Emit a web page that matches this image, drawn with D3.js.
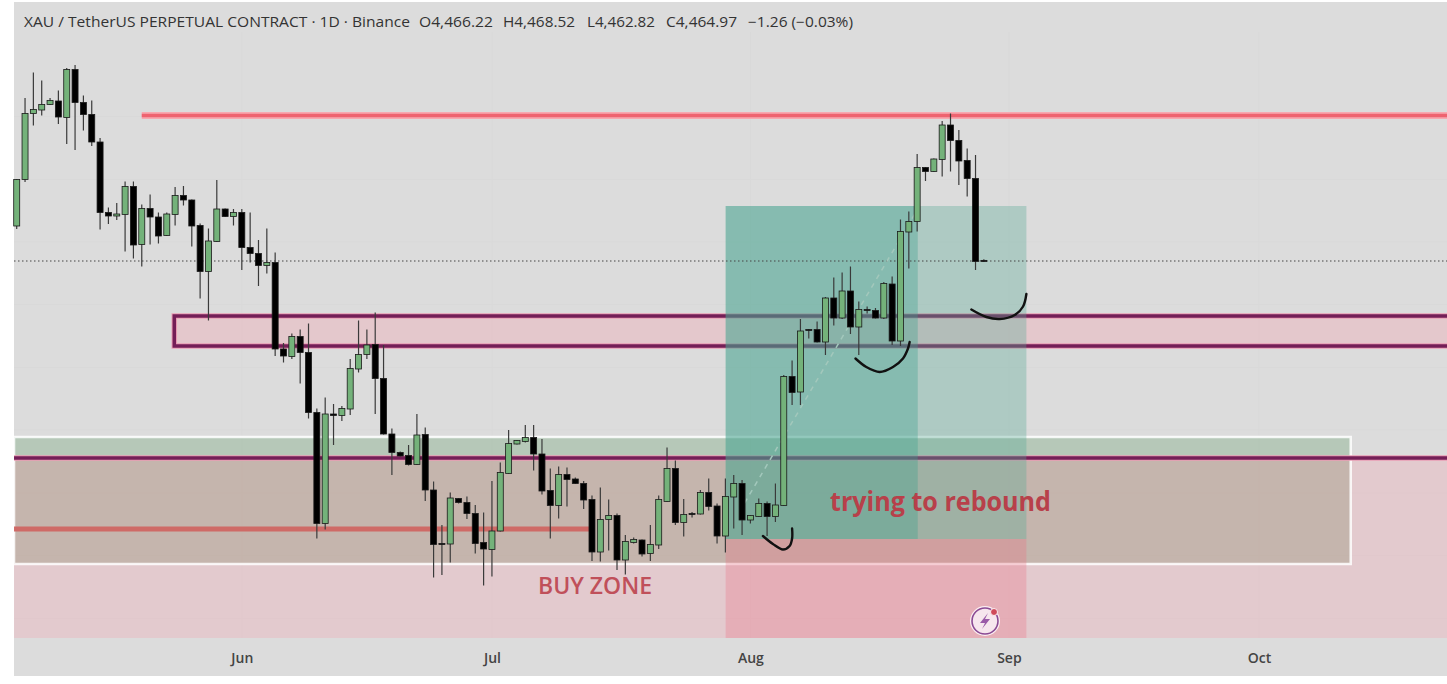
<!DOCTYPE html>
<html>
<head>
<meta charset="utf-8">
<script src="https://cdn.jsdelivr.net/npm/d3@7"></script>
<style>
    html, body { margin: 0; padding: 0; background: #fff; }
    svg { display: block; }
    text { font-family: "Open Sans", Roboto, sans-serif; }
</style>
</head>
<body>
<div id="chart"></div>
<script>
// daily XAU perp candles, first bar is May 5
const firstDay = "2026-05-05";
const opens = [4535,4628,4760,4767,4778,4785,4752,4848,4782,4758,4703,4562,4555,4558,4614,4498,4570,4553,4516,4558,4596,4587,4536,4444,4504,4569,4554,4562,4492,4480,4456,4462,4289,4274,4314,4282,4162,3940,4159,4156,4169,4249,4278,4298,4230,4119,4082,4076,4058,4118,4007,3900,3899,3990,3982,3960,3902,3888,3925,4040,4099,4104,4112,4079,4006,3976,4038,4029,4020,3988,3883,3948,3956,3867,3902,3907,3880,3897,3984,4050,3942,3960,3959,4002,3975,3915,3993,4020,3947,3954,3980,3954,3976,4234,4203,4328,4328,4303,4391,4351,4405,4333,4368,4366,4351,4419,4305,4523,4544,4652,4644,4668,4737,4706,4666,4630,4466.22];
const highs = [4629,4791,4842,4826,4791,4806,4851,4857,4796,4786,4711,4572,4581,4624,4624,4578,4598,4562,4562,4613,4615,4588,4540,4530,4627,4570,4569,4569,4562,4507,4530,4482,4301,4320,4328,4340,4170,4192,4179,4175,4269,4346,4328,4362,4297,4130,4084,4097,4159,4132,4024,3937,4002,3991,3994,3977,3962,4025,4062,4127,4107,4137,4137,4109,4050,4054,4052,4032,4025,3996,4012,3988,3960,3917,3912,3908,3937,3996,4092,4066,3989,3963,4007,4030,3980,4030,4037,4027,3957,3990,3984,4020,4237,4266,4349,4329,4344,4393,4432,4442,4454,4384,4374,4371,4423,4434,4548,4564,4679,4653,4670,4745,4760,4727,4690,4677,4468.52];
const lows = [4529,4623,4736,4756,4777,4739,4699,4687,4726,4695,4528,4539,4547,4484,4470,4454,4498,4500,4515,4536,4576,4494,4390,4346,4503,4553,4536,4447,4462,4415,4440,4275,4262,4269,4220,4150,3910,3928,4097,4145,4157,4242,4269,4159,4118,4037,4074,4056,4057,3985,3832,3837,3862,3980,3949,3880,3816,3834,3924,4039,4098,4102,4046,3998,3910,3950,3974,4019,3969,3865,3864,3886,3847,3838,3900,3874,3865,3889,3983,3937,3914,3952,3958,3966,3900,3882,3930,3917,3940,3953,3915,3943,3975,4177,4177,4310,4302,4277,4336,4349,4319,4277,4360,4350,4349,4297,4295,4450,4524,4625,4643,4634,4644,4617,4594,4447,4462.82];
const closes = [4628,4760,4768,4778,4786,4753,4848,4782,4758,4703,4562,4555,4559,4614,4497,4570,4553,4515,4559,4596,4587,4535,4444,4505,4569,4554,4562,4492,4480,4456,4462,4289,4275,4314,4282,4162,3940,4159,4156,4170,4250,4278,4297,4230,4119,4082,4075,4058,4117,4007,3898,3898,3991,3982,3960,3900,3889,3925,4042,4100,4106,4112,4079,4005,3976,4038,4028,4020,3987,3883,3948,3956,3867,3904,3908,3879,3898,3988,4050,3942,3958,3959,4002,3974,3915,3994,4020,3947,3956,3980,3954,3977,4234,4202,4325,4326,4303,4391,4351,4405,4333,4368,4366,4351,4420,4305,4524,4544,4652,4644,4669,4737,4706,4665,4630,4464,4464.97];

const tickDates = ["2026-06-01", "2026-07-01", "2026-08-01", "2026-09-01", "2026-10-01"];
const tickLabels = ["Jun", "Jul", "Aug", "Sep", "Oct"];
const gridPrices = [4754, 4628, 4503, 4378, 4252, 4127, 4001, 3876, 3750];

// levels drawn on the chart, prices and bar numbers
const resistanceLevel = { price: 4756, fromBar: 15 };
const purpleZone = { top: 4355, bottom: 4295, fromBar: 18.9 };
const demandBox = { top: 4113, bottom: 3859, fromBar: -0.32, toBar: 160 };
const buyZone = { top: 4071, bottom: 3711, fromBar: -0.32 };
const supportLevel = { price: 3929, fromBar: -0.32, toBar: 69 };
const position = { top: 4575, entry: 3909, bottom: 3711, fromBar: 85.03, nowBar: 108.07, toBar: 121.1 };
const positionPath = [[87.3, 3981], [108.07, 4569]];
const lastPrice = 4465;

// pen strokes
const penStrokes = [
    [[89.5,3915],[90.7,3899],[91.9,3888],[92.7,3895],[93,3910],[93,3930]],
    [[100.6,4270],[101.9,4253],[103.5,4243],[105.1,4253],[106.3,4270],[106.9,4290],[107.1,4303]],
    [[114.5,4368],[116.3,4353],[117.9,4349],[119.7,4357],[120.7,4374],[121.1,4399]]
];

const width = 1447, height = 684;
const left = 14, right = 1447, top_ = 2, plotBottom = 638, chartBottom = 676;
const DAY = 864e5;
const start = new Date(firstDay + "T00:00:00Z");

const x = d3.scaleUtc()
    .domain([start, new Date(tickDates[4] + "T00:00:00Z")])
    .range([16.7, 1259]);
const y = d3.scaleLinear().domain([4987, 3619]).range([0, 684]);
const barX = i => x(new Date(+start + i * DAY));

const svg = d3.select("#chart").append("svg")
    .attr("width", width)
    .attr("height", height)
    .attr("viewBox", [0, 0, width, height]);

function band(x0, x1, p0, p1, fill) {
    return svg.append("rect")
        .attr("x", x0).attr("width", x1 - x0)
        .attr("y", y(p0)).attr("height", y(p1) - y(p0))
        .attr("fill", fill);
}
function hline(x0, x1, price, color, w) {
    return svg.append("line")
        .attr("x1", x0).attr("x2", x1)
        .attr("y1", y(price)).attr("y2", y(price))
        .attr("stroke", color).attr("stroke-width", w);
}

svg.append("rect").attr("x", left).attr("y", top_)
    .attr("width", right - left).attr("height", chartBottom - top_)
    .attr("fill", "#dcdcdc");

// faint grid
svg.selectAll(".gridy").data(gridPrices).enter().append("line")
    .attr("x1", left).attr("x2", right)
    .attr("y1", d => y(d)).attr("y2", d => y(d))
    .attr("stroke", "#d9d9d9");
svg.selectAll(".gridx").data(tickDates).enter().append("line")
    .attr("x1", d => x(new Date(d + "T00:00:00Z"))).attr("x2", d => x(new Date(d + "T00:00:00Z")))
    .attr("y1", top_ + 30).attr("y2", plotBottom)
    .attr("stroke", "#d9d9d9");

// zones
band(barX(demandBox.fromBar), barX(demandBox.toBar), demandBox.top, demandBox.bottom, "rgba(125,170,130,0.4)");
band(barX(buyZone.fromBar), right, buyZone.top, buyZone.bottom, "rgba(240,170,180,0.35)");
band(barX(demandBox.fromBar), barX(demandBox.toBar), buyZone.top, demandBox.bottom, "rgba(160,120,90,0.1)");
band(barX(purpleZone.fromBar), right, purpleZone.top, purpleZone.bottom, "rgba(240,170,180,0.4)");

// white outline of the demand box
svg.append("rect")
    .attr("x", barX(demandBox.fromBar)).attr("width", barX(demandBox.toBar) - barX(demandBox.fromBar))
    .attr("y", y(demandBox.top)).attr("height", y(demandBox.bottom) - y(demandBox.top))
    .attr("fill", "none").attr("stroke", "rgba(255,255,255,0.85)").attr("stroke-width", 2.5);

// level lines
hline(barX(resistanceLevel.fromBar), right, resistanceLevel.price, "#f7a9b0", 7);
hline(barX(resistanceLevel.fromBar), right, resistanceLevel.price, "#ee6470", 3.5);
hline(barX(supportLevel.fromBar), barX(supportLevel.toBar), supportLevel.price, "#cf6a66", 5);
hline(barX(buyZone.fromBar), right, buyZone.top, "#ea9db4", 5.5);
hline(barX(buyZone.fromBar), right, buyZone.top, "#741f57", 3.5);
const purpleW = right + 20 - barX(purpleZone.fromBar);
svg.append("rect")
    .attr("x", barX(purpleZone.fromBar)).attr("width", purpleW)
    .attr("y", y(purpleZone.top)).attr("height", y(purpleZone.bottom) - y(purpleZone.top))
    .attr("fill", "none").attr("stroke", "#ea9db4").attr("stroke-width", 5.5);
svg.append("rect")
    .attr("x", barX(purpleZone.fromBar)).attr("width", purpleW)
    .attr("y", y(purpleZone.top)).attr("height", y(purpleZone.bottom) - y(purpleZone.top))
    .attr("fill", "none").attr("stroke", "#741f57").attr("stroke-width", 3.5);

// long position tool, sits over the zones and their lines
band(barX(position.fromBar), barX(position.toBar), position.top, position.entry, "rgba(90,170,150,0.35)");
band(barX(position.fromBar), barX(position.nowBar), position.top, position.entry, "rgba(60,160,140,0.35)");
band(barX(position.fromBar), barX(position.toBar), position.entry, position.bottom, "rgba(235,110,130,0.3)");

// last price + position path
hline(left, right, lastPrice, "#444", 1).attr("stroke-dasharray", "1.5 2.5");
svg.append("line")
    .attr("x1", barX(positionPath[0][0])).attr("y1", y(positionPath[0][1]))
    .attr("x2", barX(positionPath[1][0])).attr("y2", y(positionPath[1][1]))
    .attr("stroke", "#a3c8bc").attr("stroke-width", 1.5).attr("stroke-dasharray", "5 5");

// candles
const candles = opens.map((o, i) => ({ i, o, h: highs[i], l: lows[i], c: closes[i] }));
const g = svg.selectAll(".candle").data(candles).enter().append("g").attr("class", "candle");
g.append("line")
    .attr("x1", d => barX(d.i)).attr("x2", d => barX(d.i))
    .attr("y1", d => y(d.h)).attr("y2", d => y(d.l))
    .attr("stroke", "#3a3a3a").attr("stroke-width", 1.2);
g.append("rect")
    .attr("x", d => barX(d.i) - 3)
    .attr("width", 6)
    .attr("y", d => y(Math.max(d.o, d.c)))
    .attr("height", d => Math.max(1, Math.abs(y(d.o) - y(d.c))))
    .attr("fill", d => d.c >= d.o ? "#74b27a" : "#000")
    .attr("stroke", "#1a1a1a").attr("stroke-width", 0.8);

// pen strokes
const pen = d3.line().x(d => barX(d[0])).y(d => y(d[1])).curve(d3.curveCatmullRom);
svg.selectAll(".pen").data(penStrokes).enter().append("path")
    .attr("d", pen).attr("fill", "none")
    .attr("stroke", "#111").attr("stroke-width", 2.4).attr("stroke-linecap", "round");

// time axis
const axis = d3.axisBottom(x)
    .tickValues(tickDates.map(d => new Date(d + "T00:00:00Z")))
    .tickFormat((d, i) => tickLabels[i])
    .tickSize(0);
const axisG = svg.append("g").attr("transform", `translate(0,${plotBottom + 12})`).call(axis);
axisG.select(".domain").remove();
axisG.selectAll("text")
    .style("font-size", "14px").style("font-weight", 600).attr("fill", "#444");

// header
const header = svg.append("g").attr("fill", "#333")
    .style("font-size", "14px").style("font-family", "'DejaVu Sans', sans-serif");
function headText(str, px, len) {
    header.append("text").attr("x", px).attr("y", 27)
        .attr("textLength", len).attr("lengthAdjust", "spacingAndGlyphs").text(str);
}
headText("XAU / TetherUS PERPETUAL CONTRACT · 1D · Binance", 24, 386);
const lastBar = candles[candles.length - 1];
const fmt = d3.format(",.2f");
headText("O" + fmt(lastBar.o), 419, 74);
headText("H" + fmt(lastBar.h), 503, 72);
headText("L" + fmt(lastBar.l), 587, 68);
headText("C" + fmt(lastBar.c), 666, 71);
headText("−1.26 (−0.03%)", 748, 105);

// notes
svg.append("text").attr("x", 830).attr("y", 511)
    .attr("textLength", 221).attr("lengthAdjust", "spacingAndGlyphs")
    .attr("fill", "#b8404a").style("font-size", "26px").style("font-weight", 700)
    .text("trying to rebound");
svg.append("text").attr("x", 538).attr("y", 594)
    .attr("fill", "#c0505a").style("font-size", "23px").style("font-weight", 600)
    .text("BUY ZONE");

// bolt badge
const badge = svg.append("g").attr("transform", "translate(985,621)");
badge.append("circle").attr("r", 14).attr("fill", "#f6e6ee").attr("stroke", "#fbeef2").attr("stroke-width", 2);
badge.append("circle").attr("r", 13).attr("fill", "none").attr("stroke", "#8a4a94").attr("stroke-width", 1.6);
badge.append("path").attr("d", "M3,-8 L-5,2 L0,2 L-3,8 L5,-2 L0,-2 Z").attr("fill", "#9a5aa8");
badge.append("circle").attr("cx", 9).attr("cy", -9).attr("r", 3.5).attr("fill", "#cf4a5a").attr("stroke", "#fbeef2");
</script>
</body>
</html>
